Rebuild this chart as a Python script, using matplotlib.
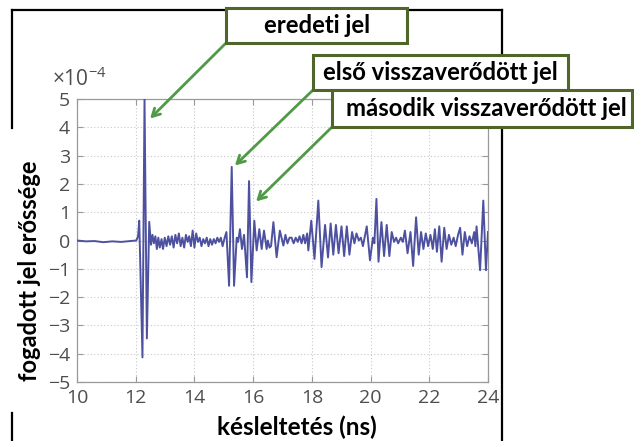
import matplotlib
matplotlib.use("Agg")
import matplotlib.pyplot as plt
from matplotlib.patches import Rectangle
from matplotlib.lines import Line2D

# kép mérete pixelben
W, H = 634, 441

# késleltetés (ns) és a jel erőssége (x 1e-4), szakaszonként leolvasva
t_pre = [10.00, 10.30, 10.60, 10.90, 11.20, 11.50, 11.80, 12.02]
v_pre = [0.00, -0.03, -0.02, -0.06, -0.03, -0.05, -0.02, 0.00]

t_main = [12.08, 12.12, 12.23, 12.30, 12.38, 12.46]
v_main = [0.15, 0.70, -4.13, 5.00, -3.46, 0.66]

t_mid = [12.52, 12.57, 12.62, 12.67, 12.72, 12.77, 12.82, 12.88, 12.93, 12.99,
         13.05, 13.11, 13.17, 13.23, 13.29, 13.35, 13.41, 13.47, 13.53, 13.59,
         13.65, 13.71, 13.77, 13.82, 13.88, 13.94, 14.00, 14.06, 14.12, 14.18,
         14.24, 14.30, 14.36, 14.42, 14.48, 14.54, 14.60, 14.66, 14.72, 14.78,
         14.84, 14.90, 14.96, 15.03, 15.09]
v_mid = [-0.15, 0.20, -0.10, 0.15, -0.30, 0.10, -0.25, 0.05, -0.30, 0.10,
         -0.20, 0.15, -0.15, 0.15, -0.25, 0.20, -0.10, 0.25, -0.20, 0.10,
         -0.25, 0.20, -0.05, 0.15, -0.20, 0.35, -0.25, 0.25, -0.05, 0.10,
         -0.20, 0.05, -0.10, 0.10, -0.20, 0.05, -0.15, 0.05, -0.10, 0.10,
         -0.05, 0.10, -0.20, 0.10, 0.30]

t_refl = [15.18, 15.27, 15.35, 15.44, 15.49, 15.55, 15.62, 15.69, 15.79, 15.86,
          15.94, 16.04, 16.12, 16.21, 16.29, 16.37, 16.46, 16.50, 16.56, 16.61,
          16.69, 16.80, 16.91, 17.03, 17.10, 17.17, 17.24, 17.31, 17.38, 17.45,
          17.52, 17.58, 17.65, 17.71, 17.77, 17.84, 17.88, 17.98, 18.09, 18.22,
          18.33]
v_refl = [-1.60, 2.60, -1.60, 0.10, -0.05, 0.40, -0.30, 0.20, -1.30, 2.10,
          -1.47, 0.70, -0.35, 0.40, -0.30, 0.35, -0.30, 0.00, -0.25, -0.20,
          0.65, -0.59, 0.35, -0.18, 0.20, -0.10, 0.10, 0.10, -0.10, 0.10,
          -0.05, 0.15, -0.10, 0.20, -0.10, 0.25, -0.35, 0.70, -0.65, 1.41,
          -0.94]

t_tail = [18.45, 18.55, 18.64, 18.73, 18.82, 18.91, 19.01, 19.10, 19.19, 19.28,
          19.37, 19.45, 19.52, 19.60, 19.67, 19.74, 19.87, 19.98, 20.08, 20.13,
          20.20, 20.27, 20.37, 20.46, 20.55, 20.64, 20.72, 20.80, 20.87, 20.94,
          21.03, 21.10, 21.17, 21.26, 21.36, 21.45, 21.55, 21.64, 21.72, 21.80,
          21.88, 21.96, 22.04, 22.12, 22.19, 22.26, 22.34, 22.42, 22.51, 22.59,
          22.67, 22.75, 22.83, 22.90, 22.98, 23.05, 23.13, 23.21, 23.29, 23.37,
          23.45, 23.53, 23.57, 23.61, 23.73, 23.84, 23.93, 24.00]
v_tail = [0.55, -0.60, 0.60, -0.50, 0.55, -0.45, 0.50, -0.55, 0.50, -0.50,
          0.30, -0.10, 0.25, 0.00, 0.10, -0.20, 0.50, -0.70, 0.10, -0.10,
          1.47, -0.75, 0.65, -0.55, 0.55, -0.55, 0.30, -0.05, 0.10, -0.10,
          0.10, -0.05, 0.35, -0.45, 0.30, -0.90, 0.82, -0.50, 0.30, -0.30,
          0.25, -0.20, 0.20, -0.30, 0.40, -0.40, 0.50, -0.75, 0.45, -0.30,
          0.20, -0.15, 0.10, -0.20, 0.20, 0.45, -0.50, 0.30, -0.20, 0.15,
          -0.10, 0.30, -0.20, 0.50, -1.05, 1.41, -1.05, 0.30]

labels = ["eredeti jel", "első visszaverődött jel", "második visszaverődött jel"]
# a nyilak végpontjai (ns, x 1e-4)
arrow_t = [12.49, 15.38, 16.10]
arrow_v = [4.31, 2.65, 1.38]

t = t_pre + t_main + t_mid + t_refl + t_tail
v = v_pre + v_main + v_mid + v_refl + v_tail

plt.rcParams['font.family'] = ['Open Sans', 'DejaVu Sans']
plt.rcParams['mathtext.fontset'] = 'custom'
plt.rcParams['mathtext.rm'] = 'Open Sans'


def fx(px):
    return px / W


def fy(py):
    return 1 - py / H


fig = plt.figure(figsize=(W / 100, H / 100), dpi=100)
ax = fig.add_axes([fx(77), fy(382), (488 - 77) / W, (382 - 99) / H])

ax.plot(t, v, color='#4d51a0', lw=1.4, zorder=3)
ax.set_xlim(10, 24)
ax.set_ylim(-5, 5)
ax.set_xticks(range(10, 25, 2))
ax.set_yticks(range(-5, 6))
ax.grid(True, linestyle=(0, (1, 2)), color='#c8c8c8', lw=0.8)
ax.tick_params(direction='in', length=4, top=True, right=True, color='#999999',
               labelcolor='#4d4d4d', labelsize=14)
ax.tick_params(axis='y', pad=5)
ax.tick_params(axis='x', pad=5)
for s in ax.spines.values():
    s.set_color('#9a9a9a')
    s.set_linewidth(0.9)

fig.text(fx(52), fy(86), r'$\mathregular{\times10^{-4}}$', color='#4d4d4d', fontsize=15)

# keret a kép körül (a feliratok mögött megszakad)
frame = [([12, 12], [10, 128]), ([12, 12], [413, 441]), ([12, 502], [10, 10]), ([502, 502], [10, 441])]
for xs, ys in frame:
    fig.add_artist(Line2D([fx(p) for p in xs], [fy(p) for p in ys], color='black', lw=1.6,
                          transform=fig.transFigure))

bold = dict(fontweight='bold', family=['Lato', 'DejaVu Sans'], color='black')
fig.text(fx(30), fy(271), 'fogadott jel erőssége', rotation=90, ha='center', va='center',
         fontsize=17, **bold)
fig.text(fx(297), fy(427), 'késleltetés (ns)', ha='center', va='center', fontsize=17.5, **bold)

# feliratdobozok: bal, felső, jobb, alsó szél pixelben
boxes = [(226, 8, 407, 43), (313, 55, 568, 90), (332, 90, 632, 127)]
text_x = [317, 440, 486]
for lab, (x0, y0, x1, y1), tx, at, av in zip(labels, boxes, text_x, arrow_t, arrow_v):
    ax.annotate('', xy=(at, av), xycoords='data', xytext=(fx(x0), fy(y1)),
                textcoords='figure fraction', annotation_clip=False,
                arrowprops=dict(arrowstyle='->,head_length=0.55,head_width=0.3',
                                color='#4f9a47', lw=2.0, shrinkA=0, shrinkB=0))
    fig.add_artist(Rectangle((fx(x0), fy(y1)), (x1 - x0) / W, (y1 - y0) / H,
                             transform=fig.transFigure, facecolor='white',
                             edgecolor='#50652a', lw=2.2, zorder=5))
    fig.text(fx(tx), fy((y0 + y1) / 2), lab, ha='center', va='center', fontsize=17.2,
             zorder=6, **bold)

fig.savefig('out.png', dpi=100)
